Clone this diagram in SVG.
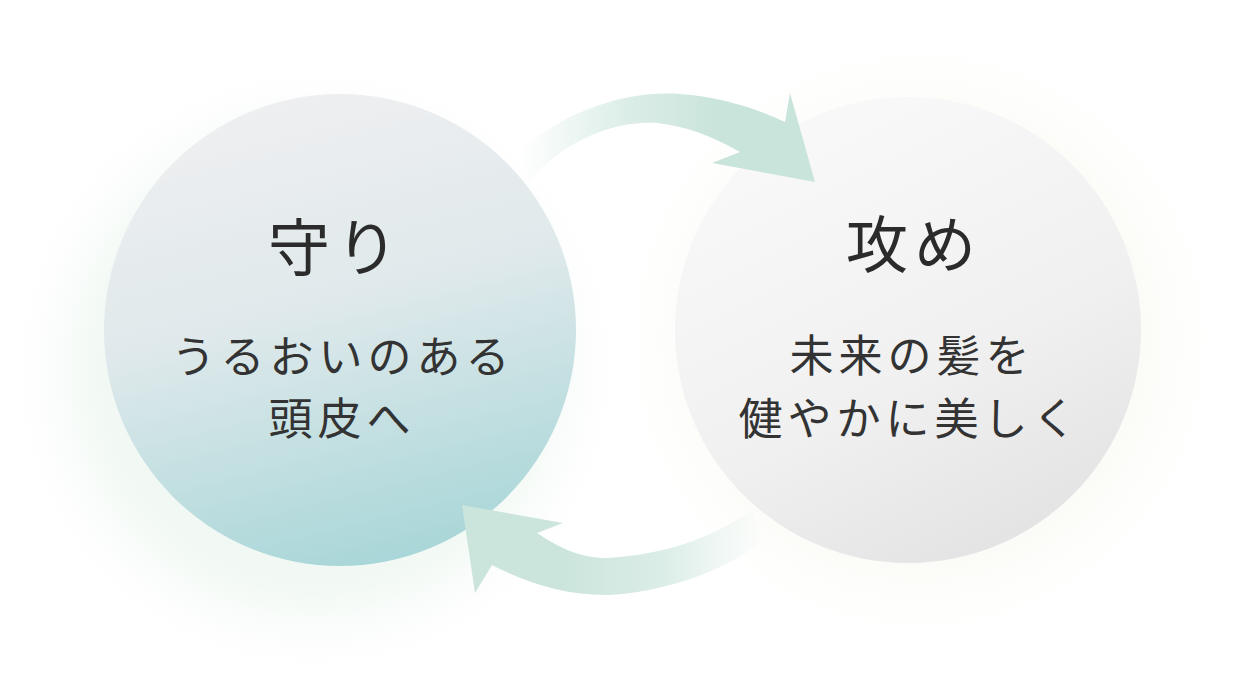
<svg xmlns="http://www.w3.org/2000/svg" width="1241" height="680" viewBox="0 0 1241 680">
  <defs>
    <radialGradient id="glowL" cx="0.5" cy="0.5" r="0.5">
      <stop offset="0" stop-color="#dcefe3" stop-opacity="1"/>
      <stop offset="0.7" stop-color="#e8f4ec" stop-opacity="0.7"/>
      <stop offset="1" stop-color="#ffffff" stop-opacity="0"/>
    </radialGradient>
    <radialGradient id="glowR" cx="0.5" cy="0.5" r="0.5">
      <stop offset="0" stop-color="#f4f5ea" stop-opacity="1"/>
      <stop offset="0.7" stop-color="#f7f8ef" stop-opacity="0.7"/>
      <stop offset="1" stop-color="#ffffff" stop-opacity="0"/>
    </radialGradient>
    <linearGradient id="circL" x1="0.35" y1="0" x2="0.6" y2="1">
      <stop offset="0" stop-color="#efeff1"/>
      <stop offset="0.45" stop-color="#dfe9eb"/>
      <stop offset="1" stop-color="#a8d6d8"/>
    </linearGradient>
    <linearGradient id="circR" x1="0.3" y1="0.1" x2="0.75" y2="1">
      <stop offset="0" stop-color="#f8f8f8"/>
      <stop offset="0.55" stop-color="#f0f0f0"/>
      <stop offset="1" stop-color="#e2e2e3"/>
    </linearGradient>
    <linearGradient id="arrTop" gradientUnits="userSpaceOnUse" x1="520" y1="0" x2="720" y2="0">
      <stop offset="0" stop-color="#cbe5dc" stop-opacity="0"/>
      <stop offset="0.55" stop-color="#cbe5dc" stop-opacity="0.7"/>
      <stop offset="1" stop-color="#c9e4da" stop-opacity="1"/>
    </linearGradient>
    <linearGradient id="arrBot" gradientUnits="userSpaceOnUse" x1="560" y1="0" x2="765" y2="0">
      <stop offset="0" stop-color="#cbe5dc" stop-opacity="1"/>
      <stop offset="0.5" stop-color="#cfe7df" stop-opacity="0.75"/>
      <stop offset="1" stop-color="#d4e9e2" stop-opacity="0"/>
    </linearGradient>
  </defs>
  <style>
    .title { font-family: "Noto Sans CJK JP", "Noto Sans CJK SC", sans-serif; font-size: 62px; font-weight: 400; fill: #2b2b2b; text-anchor: middle; letter-spacing: 6px; }
    .body { font-family: "Noto Sans CJK JP", "Noto Sans CJK SC", sans-serif; font-size: 44px; font-weight: 400; fill: #333333; text-anchor: middle; letter-spacing: 5px; }
  </style>
  <rect width="1241" height="680" fill="#ffffff"/>
  <g id="background">
    <circle cx="315" cy="370" r="320" fill="url(#glowL)" opacity="0.75"/>
    <circle cx="920" cy="340" r="320" fill="url(#glowR)" opacity="0.7"/>
  </g>
  <g id="node-mamori">
    <circle cx="340" cy="330" r="236" fill="url(#circL)"/>
    <text class="title" x="336" y="271">守り</text>
    <text class="body" x="343" y="373">うるおいのある</text>
    <text class="body" x="342" y="435">頭皮へ</text>
  </g>
  <g id="node-seme">
    <circle cx="908" cy="330" r="233" fill="url(#circR)"/>
    <text class="title" x="914" y="268">攻め</text>
    <text class="body" x="912" y="372">未来の髪を</text>
    <text class="body" x="910" y="435">健やかに美しく</text>
  </g>
  <g id="connectors">
    <path d="M518,152 C560,115 620,90 680,94 C720,97 755,108 785,122 L790,93 L815,182 L712,163 L740,152 C710,135 685,126 657,123 C615,120 565,140 530,180 Z" fill="url(#arrTop)"/>
    <path d="M462,505 L475,593 L492,565 C530,585 570,596 610,595 C660,592 720,574 762,542 L752,510 C710,540 660,555 607,558 C580,558 560,548 537,533 L563,523 Z" fill="url(#arrBot)"/>
  </g>
</svg>
